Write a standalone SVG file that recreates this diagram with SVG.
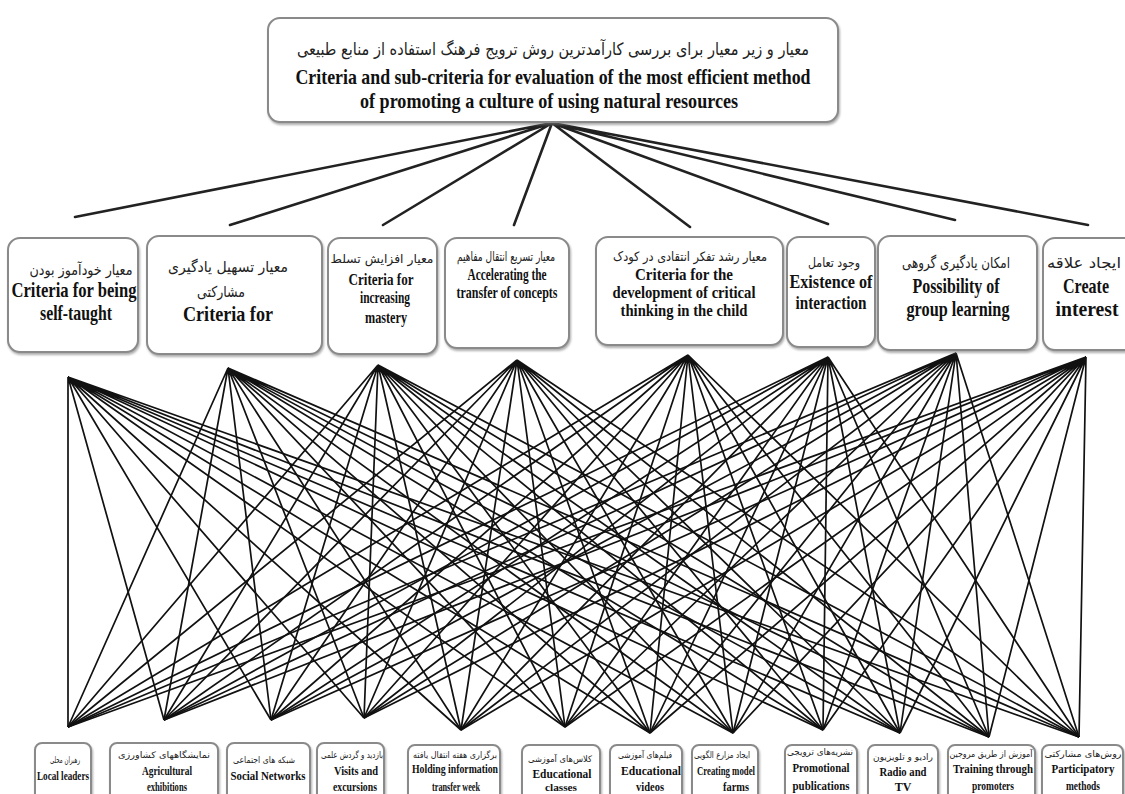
<svg xmlns="http://www.w3.org/2000/svg" width="1125" height="794" viewBox="0 0 1125 794">
<style>
.box{fill:#fff;stroke:#8a8a8a;stroke-width:2;filter:url(#sh)}
.en{font-family:"Liberation Serif",serif;font-weight:bold;fill:#111;text-anchor:middle}
.fa{font-family:"DejaVu Sans",sans-serif;fill:#222;text-anchor:middle;direction:rtl}
.top{stroke:#222;stroke-width:2.6;fill:none;stroke-linecap:round}
.web{stroke:#111;stroke-width:1.7;fill:none}
</style>
<defs>
<filter id="sh" x="-10%" y="-10%" width="120%" height="130%">
<feDropShadow dx="1" dy="2" stdDeviation="1.2" flood-color="#777" flood-opacity="0.6"/>
</filter>
</defs>
<rect width="1125" height="794" fill="#fff"/>

<g id="connectors">
<g id="top-links">
<path class="top" d="M552,123L75,217M552,123L230,225M552,123L383,225M552,123L514,225M552,123L690,227M552,123L828,224M552,123L955,220M552,123L1088,225"/>
</g>
<g id="web-links">
<path class="web" d="M68,377L68,727M68,377L164,720M68,377L271,720M68,377L364,718M68,377L461,730M68,377L565,727M68,377L650,733M68,377L733,733M68,377L823,730M68,377L900,733M68,377L989,737M68,377L1079,737"/>
<path class="web" d="M228,368L68,727M228,368L164,720M228,368L271,720M228,368L364,718M228,368L461,730M228,368L565,727M228,368L650,733M228,368L733,733M228,368L823,730M228,368L900,733M228,368L989,737M228,368L1079,737"/>
<path class="web" d="M378,365L68,727M378,365L164,720M378,365L271,720M378,365L364,718M378,365L461,730M378,365L565,727M378,365L650,733M378,365L733,733M378,365L823,730M378,365L900,733M378,365L989,737M378,365L1079,737"/>
<path class="web" d="M517,360L68,727M517,360L164,720M517,360L271,720M517,360L364,718M517,360L461,730M517,360L565,727M517,360L650,733M517,360L733,733M517,360L823,730M517,360L900,733M517,360L989,737M517,360L1079,737"/>
<path class="web" d="M688,355L68,727M688,355L164,720M688,355L271,720M688,355L364,718M688,355L461,730M688,355L565,727M688,355L650,733M688,355L733,733M688,355L823,730M688,355L900,733M688,355L989,737M688,355L1079,737"/>
<path class="web" d="M828,357L68,727M828,357L164,720M828,357L271,720M828,357L364,718M828,357L461,730M828,357L565,727M828,357L650,733M828,357L733,733M828,357L823,730M828,357L900,733M828,357L989,737M828,357L1079,737"/>
<path class="web" d="M956,353L68,727M956,353L164,720M956,353L271,720M956,353L364,718M956,353L461,730M956,353L565,727M956,353L650,733M956,353L733,733M956,353L823,730M956,353L900,733M956,353L989,737M956,353L1079,737"/>
<path class="web" d="M1086,357L68,727M1086,357L164,720M1086,357L271,720M1086,357L364,718M1086,357L461,730M1086,357L565,727M1086,357L650,733M1086,357L733,733M1086,357L823,730M1086,357L900,733M1086,357L989,737M1086,357L1079,737"/>
</g>
</g>

<g id="goal">
<rect class="box" x="268" y="18" width="570" height="104" rx="12"/>
<text class="fa" x="553" y="55" font-size="17" textLength="512" lengthAdjust="spacingAndGlyphs">معیار و زیر معیار برای بررسی کارآمدترین روش ترویج فرهنگ استفاده از منابع طبیعی</text>
<text class="en" x="553" y="84" font-size="21" textLength="515" lengthAdjust="spacingAndGlyphs">Criteria and sub-criteria for evaluation of the most efficient method</text>
<text class="en" x="549" y="108" font-size="21" textLength="378" lengthAdjust="spacingAndGlyphs">of promoting a culture of using natural resources</text>
</g>

<g id="c1">
<rect class="box" x="8" y="238" width="130" height="114" rx="12"/>
<text class="fa" x="81" y="275" font-size="15" textLength="103" lengthAdjust="spacingAndGlyphs">معیار خودآموز بودن</text>
<text class="en" x="74" y="297" font-size="21" textLength="125" lengthAdjust="spacingAndGlyphs">Criteria for being</text>
<text class="en" x="76" y="320" font-size="21" textLength="72" lengthAdjust="spacingAndGlyphs">self-taught</text>
</g>
<g id="c2">
<rect class="box" x="147" y="236" width="175" height="118" rx="12"/>
<text class="fa" x="228" y="272" font-size="15" textLength="120" lengthAdjust="spacingAndGlyphs">معیار تسهیل یادگیری</text>
<text class="fa" x="221" y="297" font-size="15" textLength="48" lengthAdjust="spacingAndGlyphs">مشارکتی</text>
<text class="en" x="228" y="321" font-size="21" textLength="90" lengthAdjust="spacingAndGlyphs">Criteria for</text>
</g>
<g id="c3">
<rect class="box" x="328" y="238" width="109" height="116" rx="12"/>
<text class="fa" x="382" y="263" font-size="12" textLength="103" lengthAdjust="spacingAndGlyphs">معیار افزایش تسلط</text>
<text class="en" x="381" y="285" font-size="16" textLength="65" lengthAdjust="spacingAndGlyphs">Criteria for</text>
<text class="en" x="385" y="303" font-size="16" textLength="50" lengthAdjust="spacingAndGlyphs">increasing</text>
<text class="en" x="386" y="323" font-size="16" textLength="42" lengthAdjust="spacingAndGlyphs">mastery</text>
</g>
<g id="c4">
<rect class="box" x="445" y="238" width="124" height="110" rx="12"/>
<text class="fa" x="506" y="261" font-size="13" textLength="98" lengthAdjust="spacingAndGlyphs">معیار تسریع انتقال مفاهیم</text>
<text class="en" x="507" y="280" font-size="17" textLength="79" lengthAdjust="spacingAndGlyphs">Accelerating the</text>
<text class="en" x="507" y="298" font-size="17" textLength="101" lengthAdjust="spacingAndGlyphs">transfer of concepts</text>
</g>
<g id="c5">
<rect class="box" x="596" y="237" width="187" height="108" rx="12"/>
<text class="fa" x="690" y="261" font-size="13" textLength="154" lengthAdjust="spacingAndGlyphs">معیار رشد تفکر انتقادی در کودک</text>
<text class="en" x="684" y="280" font-size="17" textLength="98" lengthAdjust="spacingAndGlyphs">Criteria for the</text>
<text class="en" x="684" y="298" font-size="17" textLength="143" lengthAdjust="spacingAndGlyphs">development of critical</text>
<text class="en" x="684" y="316" font-size="17" textLength="127" lengthAdjust="spacingAndGlyphs">thinking in the child</text>
</g>
<g id="c6">
<rect class="box" x="787" y="237" width="88" height="110" rx="12"/>
<text class="fa" x="834" y="267" font-size="13" textLength="52" lengthAdjust="spacingAndGlyphs">وجود تعامل</text>
<text class="en" x="831" y="288" font-size="18" textLength="83" lengthAdjust="spacingAndGlyphs">Existence of</text>
<text class="en" x="831" y="309" font-size="18" textLength="71" lengthAdjust="spacingAndGlyphs">interaction</text>
</g>
<g id="c7">
<rect class="box" x="878" y="236" width="159" height="114" rx="12"/>
<text class="fa" x="956" y="268" font-size="15" textLength="108" lengthAdjust="spacingAndGlyphs">امکان یادگیری گروهی</text>
<text class="en" x="956" y="293" font-size="21" textLength="87" lengthAdjust="spacingAndGlyphs">Possibility of</text>
<text class="en" x="958" y="316" font-size="21" textLength="103" lengthAdjust="spacingAndGlyphs">group learning</text>
</g>
<g id="c8">
<rect class="box" x="1043" y="238" width="100" height="112" rx="12"/>
<text class="fa" x="1084" y="268" font-size="15" textLength="74" lengthAdjust="spacingAndGlyphs">ایجاد علاقه</text>
<text class="en" x="1086" y="293" font-size="21" textLength="46" lengthAdjust="spacingAndGlyphs">Create</text>
<text class="en" x="1087" y="316" font-size="21" textLength="63" lengthAdjust="spacingAndGlyphs">interest</text>
</g>

<g id="a1">
<rect class="box" x="35" y="743" width="56" height="70" rx="7"/>
<text class="fa" x="65" y="763" font-size="9" textLength="30" lengthAdjust="spacingAndGlyphs">رهبران محلی</text>
<text class="en" x="63" y="780" font-size="12" textLength="52" lengthAdjust="spacingAndGlyphs">Local leaders</text>
</g>
<g id="a2">
<rect class="box" x="110" y="743" width="108" height="70" rx="7"/>
<text class="fa" x="164" y="758" font-size="9" textLength="92" lengthAdjust="spacingAndGlyphs">نمایشگاههای کشاورزی</text>
<text class="en" x="167" y="775" font-size="13" textLength="50" lengthAdjust="spacingAndGlyphs">Agricultural</text>
<text class="en" x="167" y="791" font-size="13" textLength="40" lengthAdjust="spacingAndGlyphs">exhibitions</text>
</g>
<g id="a3">
<rect class="box" x="227" y="743" width="83" height="70" rx="7"/>
<text class="fa" x="264" y="763" font-size="9" textLength="62" lengthAdjust="spacingAndGlyphs">شبکه های اجتماعی</text>
<text class="en" x="268" y="780" font-size="12" textLength="75" lengthAdjust="spacingAndGlyphs">Social Networks</text>
</g>
<g id="a4">
<rect class="box" x="317" y="743" width="67" height="70" rx="7"/>
<text class="fa" x="352" y="758" font-size="9" textLength="62" lengthAdjust="spacingAndGlyphs">بازدید و گردش علمی</text>
<text class="en" x="356" y="775" font-size="13" textLength="44" lengthAdjust="spacingAndGlyphs">Visits and</text>
<text class="en" x="355" y="791" font-size="13" textLength="44" lengthAdjust="spacingAndGlyphs">excursions</text>
</g>
<g id="a5">
<rect class="box" x="408" y="745" width="92" height="70" rx="7"/>
<text class="fa" x="455" y="758" font-size="9" textLength="84" lengthAdjust="spacingAndGlyphs">برگزاری هفته انتقال یافته</text>
<text class="en" x="455" y="773" font-size="12" textLength="86" lengthAdjust="spacingAndGlyphs">Holding information</text>
<text class="en" x="456" y="791" font-size="12" textLength="48" lengthAdjust="spacingAndGlyphs">transfer week</text>
</g>
<g id="a6">
<rect class="box" x="522" y="745" width="78" height="70" rx="7"/>
<text class="fa" x="560" y="762" font-size="9" textLength="64" lengthAdjust="spacingAndGlyphs">کلاس‌های آموزشی</text>
<text class="en" x="562" y="778" font-size="13" textLength="59" lengthAdjust="spacingAndGlyphs">Educational</text>
<text class="en" x="561" y="791" font-size="11" textLength="32" lengthAdjust="spacingAndGlyphs">classes</text>
</g>
<g id="a7">
<rect class="box" x="610" y="745" width="72" height="70" rx="7"/>
<text class="fa" x="645" y="758" font-size="9" textLength="54" lengthAdjust="spacingAndGlyphs">فیلم‌های آموزشی</text>
<text class="en" x="651" y="775" font-size="13" textLength="60" lengthAdjust="spacingAndGlyphs">Educational</text>
<text class="en" x="650" y="791" font-size="13" textLength="28" lengthAdjust="spacingAndGlyphs">videos</text>
</g>
<g id="a8">
<rect class="box" x="692" y="745" width="66" height="70" rx="7"/>
<text class="fa" x="722" y="758" font-size="9" textLength="56" lengthAdjust="spacingAndGlyphs">ایجاد مزارع الگویی</text>
<text class="en" x="726" y="775" font-size="13" textLength="58" lengthAdjust="spacingAndGlyphs">Creating model</text>
<text class="en" x="736" y="791" font-size="13" textLength="26" lengthAdjust="spacingAndGlyphs">farms</text>
</g>
<g id="a9">
<rect class="box" x="785" y="745" width="72" height="70" rx="7"/>
<text class="fa" x="820" y="755" font-size="9" textLength="66" lengthAdjust="spacingAndGlyphs">نشریه‌های ترویجی</text>
<text class="en" x="821" y="772" font-size="13" textLength="57" lengthAdjust="spacingAndGlyphs">Promotional</text>
<text class="en" x="821" y="790" font-size="13" textLength="57" lengthAdjust="spacingAndGlyphs">publications</text>
</g>
<g id="a10">
<rect class="box" x="868" y="745" width="70" height="70" rx="7"/>
<text class="fa" x="903" y="760" font-size="9" textLength="60" lengthAdjust="spacingAndGlyphs">رادیو و تلویزیون</text>
<text class="en" x="903" y="776" font-size="13" textLength="47" lengthAdjust="spacingAndGlyphs">Radio and</text>
<text class="en" x="903" y="791" font-size="12">TV</text>
</g>
<g id="a11">
<rect class="box" x="948" y="745" width="87" height="70" rx="7"/>
<text class="fa" x="991" y="757" font-size="9" textLength="83" lengthAdjust="spacingAndGlyphs">آموزش از طریق مروجین</text>
<text class="en" x="993" y="773" font-size="13" textLength="80" lengthAdjust="spacingAndGlyphs">Training through</text>
<text class="en" x="993" y="790" font-size="13" textLength="42" lengthAdjust="spacingAndGlyphs">promoters</text>
</g>
<g id="a12">
<rect class="box" x="1042" y="745" width="81" height="70" rx="7"/>
<text class="fa" x="1083" y="757" font-size="9" textLength="77" lengthAdjust="spacingAndGlyphs">روش‌های مشارکتی</text>
<text class="en" x="1083" y="773" font-size="13" textLength="63" lengthAdjust="spacingAndGlyphs">Participatory</text>
<text class="en" x="1083" y="790" font-size="13" textLength="34" lengthAdjust="spacingAndGlyphs">methods</text>
</g>
</svg>
